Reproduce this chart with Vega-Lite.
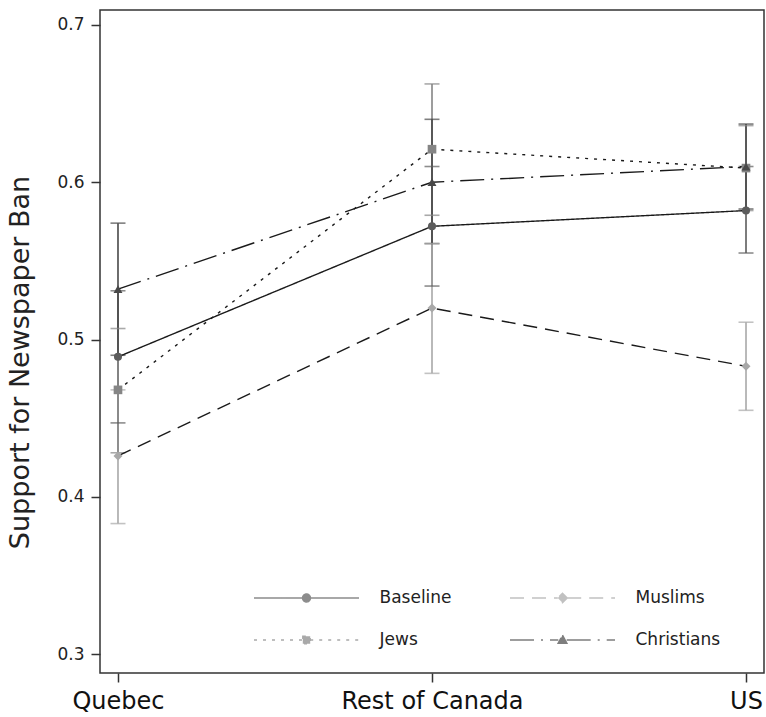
{
  "$schema": "https://vega.github.io/schema/vega-lite/v6.json",
  "width": 664,
  "height": 663,
  "autosize": {"type": "none"},
  "padding": {"left": 100, "top": 10, "right": 2, "bottom": 44},
  "background": "white",
  "config": {
    "view": {"stroke": "#333333", "strokeWidth": 1.5},
    "font": "DejaVu Sans",
    "axis": {"domain": false, "grid": false, "tickColor": "#333333", "tickWidth": 1.5, "tickSize": 9, "labelColor": "#222222", "labelFont": "DejaVu Sans", "titleFont": "DejaVu Sans", "titleColor": "#222222", "titleFontWeight": "normal"},
    "legend": {"title": null, "orient": "none", "legendX": 154, "legendY": 577, "columns": 2, "direction": "horizontal",
      "symbolSize": 400, "symbolOffset": 41.5, "symbolStrokeWidth": 1.4, "symbolStrokeColor": "#1e1e1e", "labelOffset": 62, "labelFontSize": 17,
      "labelFont": "DejaVu Sans", "labelColor": "#222222", "columnPadding": 55, "rowPadding": 23, "padding": 0}
  },
  "data": {"values": [
    {"country": "Quebec", "group": "Baseline", "est": 0.489, "lo": 0.447, "hi": 0.531},
    {"country": "Quebec", "group": "Muslims", "est": 0.426, "lo": 0.383, "hi": 0.468},
    {"country": "Quebec", "group": "Jews", "est": 0.468, "lo": 0.428, "hi": 0.507},
    {"country": "Quebec", "group": "Christians", "est": 0.532, "lo": 0.49, "hi": 0.574},
    {"country": "Rest of Canada", "group": "Baseline", "est": 0.572, "lo": 0.534, "hi": 0.61},
    {"country": "Rest of Canada", "group": "Muslims", "est": 0.52, "lo": 0.4785, "hi": 0.561},
    {"country": "Rest of Canada", "group": "Jews", "est": 0.621, "lo": 0.579, "hi": 0.6625},
    {"country": "Rest of Canada", "group": "Christians", "est": 0.6, "lo": 0.561, "hi": 0.64},
    {"country": "US", "group": "Baseline", "est": 0.582, "lo": 0.555, "hi": 0.61},
    {"country": "US", "group": "Muslims", "est": 0.483, "lo": 0.455, "hi": 0.511},
    {"country": "US", "group": "Jews", "est": 0.609, "lo": 0.582, "hi": 0.636},
    {"country": "US", "group": "Christians", "est": 0.61, "lo": 0.583, "hi": 0.637}
  ]},
  "encoding": {
    "x": {"field": "country", "type": "nominal", "sort": ["Quebec", "Rest of Canada", "US"],
      "scale": {"type": "point", "padding": 0.0573},
      "axis": {"title": null, "labelAngle": 0, "labelFontSize": 24, "labelPadding": 7, "labelLimit": 400, "labelColor": "#111111"}}
  },
  "layer": [
    {
      "mark": {"type": "rule", "strokeWidth": 1.6},
      "encoding": {
        "y": {"field": "lo", "type": "quantitative",
          "scale": {"domain": [0.288, 0.7095], "nice": false, "zero": false},
          "axis": {"values": [0.3, 0.4, 0.5, 0.6, 0.7], "format": ".1f", "labelFontSize": 17, "labelPadding": 7,
            "title": "Support for Newspaper Ban", "titleFontSize": 27, "titleX": -66, "titleY": 352}},
        "y2": {"field": "hi"},
        "color": {"field": "group", "type": "nominal",
          "scale": {"domain": ["Baseline", "Muslims", "Jews", "Christians"], "range": ["#5c5c5c", "#a8a8a8", "#858585", "#484848"]}}
      }
    },
    {
      "mark": {"type": "tick", "size": 15, "thickness": 1.6},
      "encoding": {
        "y": {"field": "lo", "type": "quantitative"},
        "color": {"field": "group", "type": "nominal"}
      }
    },
    {
      "mark": {"type": "tick", "size": 15, "thickness": 1.6},
      "encoding": {
        "y": {"field": "hi", "type": "quantitative"},
        "color": {"field": "group", "type": "nominal"}
      }
    },
    {
      "mark": {"type": "line", "color": "#1a1a1a", "strokeWidth": 1.4},
      "encoding": {
        "y": {"field": "est", "type": "quantitative"},
        "detail": {"field": "group"},
        "strokeDash": {"field": "group", "type": "nominal",
          "scale": {"domain": ["Baseline", "Muslims", "Jews", "Christians"], "range": [[1, 0], [14, 8], [3, 6], [24, 7, 2, 7]]}}
      }
    },
    {
      "transform": [{"filter": "datum.group === 'Baseline'"}],
      "mark": {"type": "point", "filled": true, "opacity": 1, "size": 65, "shape": "circle", "color": "#5c5c5c"},
      "encoding": {"y": {"field": "est", "type": "quantitative"}}
    },
    {
      "transform": [{"filter": "datum.group === 'Muslims'"}],
      "mark": {"type": "point", "filled": true, "opacity": 1, "size": 80, "shape": "diamond", "color": "#a8a8a8"},
      "encoding": {"y": {"field": "est", "type": "quantitative"}}
    },
    {
      "transform": [{"filter": "datum.group === 'Jews'"}],
      "mark": {"type": "point", "filled": true, "opacity": 1, "size": 75, "shape": "square", "color": "#858585"},
      "encoding": {"y": {"field": "est", "type": "quantitative"}}
    },
    {
      "transform": [{"filter": "datum.group === 'Christians'"}],
      "mark": {"type": "point", "filled": true, "opacity": 1, "size": 80, "shape": "triangle-up", "color": "#484848"},
      "encoding": {"y": {"field": "est", "type": "quantitative"}}
    },
    {
      "transform": [{"filter": "false"}],
      "mark": {"type": "point", "filled": true, "opacity": 1, "stroke": "#1e1e1e", "strokeWidth": 1.4},
      "encoding": {
        "y": {"field": "est", "type": "quantitative"},
        "color": {"field": "group", "type": "nominal",
          "legend": {"encode": {"symbols": {"update": {"stroke": {"value": "#1a1a1a"}, "strokeWidth": {"value": 1.4}}}}}},
        "strokeDash": {"field": "group", "type": "nominal",
          "legend": {"encode": {"symbols": {"update": {"stroke": {"value": "#1a1a1a"}, "strokeWidth": {"value": 1.4}}}}}},
        "shape": {"field": "group", "type": "nominal",
          "scale": {"domain": ["Baseline", "Muslims", "Jews", "Christians"],
            "range": [
              "M-5.25,0H-0.4M0.4,0H5.25M-0.4,0A0.4,0.4,0,1,0,0.4,0A0.4,0.4,0,1,0,-0.4,0Z",
              "M-5.25,0H-0.47M0.47,0H5.25M0,-0.47L0.47,0L0,0.47L-0.47,0Z",
              "M-5.25,0H-0.37M0.37,0H5.25M-0.37,-0.37H0.37V0.37H-0.37Z",
              "M-5.25,0H-0.42M0.42,0H5.25M0,-0.48L0.44,0.32H-0.44Z"
            ]},
          "legend": {"encode": {"symbols": {"update": {"stroke": {"value": "#1a1a1a"}, "strokeWidth": {"value": 1.4}}}}}}
      }
    }
  ]
}
